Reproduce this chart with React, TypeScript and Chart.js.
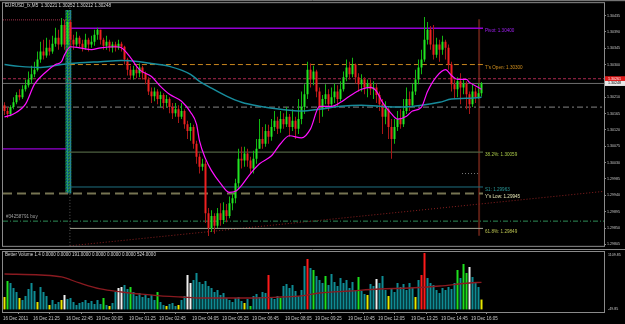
import React, { useEffect, useRef } from "react";
import { Chart, registerables } from "chart.js";
Chart.register(...registerables);

// ---------- DATA (prices in points, 1 point = 0.00001) ----------
const symbolTitle = "EURUSD_fx,M5";
const firstOpen = 130188;
const closePts = [
  130172,130164,130183,130196,130216,130210,130232,130243,130259,130273,
  130286,130314,130336,130325,130346,130336,130357,130374,130355,130409,
  130355,130417,130368,130355,130374,130357,130346,130368,130355,130363,
  130382,130396,130368,130352,130363,130346,130355,130346,130357,130349,
  130314,130286,130270,130286,130276,130292,130276,130259,130226,130213,
  130226,130205,130216,130194,130205,130183,130166,130177,130156,130172,
  130136,130117,130128,130082,130046,130019,130027,129891,129850,129883,
  129856,129891,129872,129899,129883,129918,129932,129973,130041,130036,
  130055,130036,130014,130041,130068,130095,130082,130117,130101,130128,
  130145,130123,130150,130136,130156,130128,130145,130123,130150,130183,
  130218,130286,130259,130281,130226,130177,130205,130218,130191,130210,
  130226,130205,130232,130265,130292,130273,130300,130265,130246,130259,
  130237,130248,130232,130237,130216,130191,130156,130177,130128,130095,
  130128,130150,130136,130172,130205,130188,130226,130259,130292,130314,
  130368,130396,130355,130327,130355,130341,130363,130346,130300,130246,
  130232,130254,130237,130248,130218,130191,130226,130210,130221,130248,
];
const highPts = [
  130196,130183,130188,130210,130224,130232,130243,130259,130281,130297,
  130308,130336,130363,130368,130374,130368,130379,130401,130396,130428,
  130423,130445,130423,130382,130390,130379,130368,130385,130374,130379,
  130396,130401,130396,130374,130379,130368,130363,130363,130368,130363,
  130352,130319,130297,130297,130300,130303,130297,130281,130265,130237,
  130237,130232,130226,130221,130216,130210,130194,130194,130188,130194,
  130177,130145,130139,130134,130090,130055,130041,130036,129905,129899,
  129891,129905,129918,129921,129916,129937,129945,129986,130068,130074,
  130074,130068,130046,130063,130095,130150,130128,130136,130134,130150,
  130172,130156,130172,130166,130183,130164,130177,130156,130205,130226,
  130246,130308,130303,130297,130286,130237,130216,130246,130232,130237,
  130248,130243,130254,130281,130314,130308,130319,130303,130276,130273,
  130265,130259,130259,130254,130248,130226,130205,130199,130183,130150,
  130150,130172,130177,130205,130237,130226,130248,130286,130314,130341,
  130431,130417,130406,130409,130374,130368,130379,130368,130355,130308,
  130259,130265,130276,130259,130254,130226,130246,130237,130248,130252,
];
const lowPts = [
  130161,130153,130158,130177,130191,130202,130205,130226,130237,130248,
  130265,130281,130305,130314,130319,130325,130330,130349,130341,130349,
  130341,130319,130346,130341,130349,130346,130336,130341,130336,130346,
  130352,130368,130355,130341,130341,130336,130333,130336,130341,130336,
  130300,130270,130259,130259,130262,130265,130259,130246,130216,130194,
  130199,130191,130183,130177,130183,130166,130150,130156,130139,130150,
  130123,130095,130090,130068,130027,130000,130008,129864,129828,129839,
  129834,129850,129856,129861,129866,129877,129899,129918,129959,130014,
  130019,130019,130000,130000,130027,130068,130068,130074,130082,130090,
  130117,130109,130112,130123,130128,130101,130117,130095,130109,130136,
  130164,130205,130237,130243,130210,130139,130156,130191,130172,130183,
  130194,130183,130199,130226,130254,130259,130265,130248,130226,130226,
  130218,130210,130216,130205,130194,130172,130109,130136,130095,130041,
  130082,130117,130123,130128,130164,130172,130183,130216,130246,130273,
  130308,130355,130341,130314,130319,130308,130327,130314,130286,130226,
  130205,130210,130191,130218,130177,130164,130183,130194,130205,130212,
];

// moving averages (bar index, value in points)
const maFastIdx = [0,3,7,10,14,17,19,20,22,25,29,32,37,39,42,45,49,52,55,59,62,64,65,67,69,72,75,77,79,82,85,89,92,95,99,102,105,109,112,115,119,122,124,126,129,131,134,136,139,141,144,147,149,151,154,155,158,159];
const maFastPts = [130156,130164,130191,130246,130281,130300,130308,130327,130349,130346,130341,130346,130349,130346,130319,130286,130267,130240,130218,130199,130169,130136,130090,130041,130008,129973,129948,129951,129967,130000,130027,130049,130082,130104,130098,130123,130185,130185,130196,130213,130232,130237,130226,130196,130164,130150,130158,130172,130183,130226,130267,130286,130270,130259,130259,130251,130237,130232];
const maSlowIdx = [0,5,12,19,25,32,39,45,49,55,62,65,69,74,79,85,92,99,105,112,119,125,132,139,145,149,154,159];
const maSlowPts = [130300,130295,130292,130300,130305,130308,130311,130308,130303,130295,130273,130254,130235,130213,130196,130185,130177,130172,130177,130185,130188,130185,130183,130188,130196,130205,130207,130210];

// volume panel
const volumes = [
  240,549,511,414,337,221,182,260,395,511,
  356,143,433,337,260,85,182,105,143,182,
  279,201,221,143,85,124,143,182,124,163,
  105,182,105,221,85,66,124,337,414,433,
  472,395,433,337,260,317,240,298,221,279,
  182,337,143,85,66,105,124,66,85,182,
  260,665,511,569,704,530,491,549,453,414,
  337,375,279,317,221,182,143,221,240,163,
  124,201,66,260,298,240,337,317,665,240,
  201,260,221,453,491,414,472,356,260,375,
  839,975,801,762,646,569,511,646,472,685,
  530,453,607,511,569,414,530,375,627,356,
  298,279,491,453,588,511,646,375,260,414,
  337,511,433,491,375,511,414,240,569,665,
  1090,607,511,472,375,317,414,375,433,395,
  511,762,607,878,704,820,627,530,433,191,
];
const volKinds = (
  "YGTTTYTTTT" + "TYTTTYTTTY" + "WTTTTTTTTT" + "TTTGTYTTWW" +
  "TTGTTTTTTT" + "TGTTYTTTYT" + "TWWTTTTTTT" + "TTTTTTTTTT" +
  "YTGTTTTTRT" + "TTGTTTTTTT" + "TRTGTTTGTT" + "TTTTTTTTGT" +
  "TYTTWTTTYT" + "TTTTTTTYTR" + "RTTTTTTTTT" + "TGTGGWTTTY"
).split("");
const volMaIdx = [0,12,19,25,32,39,45,52,59,65,82,92,99,105,115,125,135,145,155,159];
const volMaVals = [685,665,627,511,395,337,298,260,240,221,221,240,260,317,356,395,414,453,511,524];
const volMin = -49.85;
const volMax = 1109.85;
const volTitle = "Better Volume 1.4 0.0000 0.0000 191.0000 0.0000 0.0000 0.0000 524.0000";

// axes
const priceMin = 1.29801;
const priceMax = 1.30469;
const priceTicks = [1.30435,1.3039,1.30345,1.303,1.30255,1.3021,1.30165,1.3012,1.30075,1.3003,1.29985,1.2994,1.29895,1.2985,1.29805];
const timeTickIdx = [0,10,21,31,42,52,63,73,83,94,104,115,125,136,146,156];
const timeTickLabels = ["16 Dec 2011","16 Dec 21:25","16 Dec 22:45","19 Dec 00:05","19 Dec 01:25","19 Dec 02:45","19 Dec 04:05","19 Dec 05:25","19 Dec 06:45","19 Dec 08:05","19 Dec 09:25","19 Dec 10:45","19 Dec 12:05","19 Dec 13:25","19 Dec 14:45","19 Dec 16:05"];

// levels (prices) and time spans (bar indices)
const pivot = 1.304;
const todayOpen = 1.303;
const fib382 = 1.30059;
const s1 = 1.29963;
const yLow = 1.29945;
const fib618 = 1.29849;
const buyPrice = 1.29869;
const buyTicket = "#34258791 buy";
const askPrice = 1.30261;
const bidPrice = 1.30248;
const prevHigh = 1.30423;
const prevLevel = 1.30068;
const dashDotLevel = 1.30183;
const roundLevel = 1.3;
const trendStart = 1.29801;
const trendEnd = 1.29951;
const bandTop = 1.3045;
const xMin = -0.5;
const xMax = 199.83;
const prevEndIdx = 20.5;
const sessionIdx = 21.8;
const bandIdx = 21.3;
const levelEndIdx = 159.5;
const cursorIdx = 158.2;
const roundStartIdx = 152.5;
const roundEndIdx = 157.8;

// ---------- STYLE ----------
const FONT = "'Liberation Sans', Arial, sans-serif";
const GRAY = "#8a8a8a";
const AXIS_TXT = "#c8c8c8";
const P = (v: number) => v / 100000;

function txt(ctx: CanvasRenderingContext2D, s: string, x: number, y: number, color: string, size: number, align: CanvasTextAlign = "left", base: CanvasTextBaseline = "middle") {
  ctx.save();
  ctx.font = `${size}px ${FONT}`;
  ctx.fillStyle = color;
  ctx.textAlign = align;
  ctx.textBaseline = base;
  ctx.fillText(s, x, y);
  ctx.restore();
}

const bgPlugin = {
  id: "bg",
  beforeDraw(chart: any) {
    const ctx = chart.ctx;
    ctx.save();
    ctx.fillStyle = "#000";
    ctx.fillRect(0, 0, chart.width, chart.height);
    ctx.restore();
  },
};

const framePlugin = {
  id: "frame",
  afterDraw(chart: any) {
    const { ctx, chartArea: a } = chart;
    ctx.save();
    ctx.strokeStyle = GRAY;
    ctx.lineWidth = 1;
    ctx.strokeRect(a.left - 0.5, a.top - 0.5, a.right - a.left + 1, a.bottom - a.top + 1);
    ctx.restore();
  },
};

function hl(x0: number, x1: number, p: number, color: string, w: number, dash: number[] = []) {
  return { x0, x1, p0: p, p1: p, color, w, dash };
}

function priceConfig(pattern: any): any {
  const opens = closePts.map((_, i) => (i === 0 ? firstOpen : closePts[i - 1]));
  const bull = closePts.map((c, i) => c >= opens[i]);
  const lines = [
    hl(xMin, prevEndIdx, prevHigh, "#a0304a", 1, [1, 1]),
    hl(xMin, prevEndIdx, prevLevel, "#9400d3", 1.2),
    hl(sessionIdx, levelEndIdx, pivot, "#9400d3", 1.3),
    hl(sessionIdx, levelEndIdx, todayOpen, "#c8861e", 1, [5, 3]),
    hl(xMin, xMax, askPrice, "#a8284e", 1, [3, 2]),
    hl(xMin, xMax, bidPrice, "#6e6e6e", 1),
    hl(xMin, xMax, dashDotLevel, "#6a6a6a", 1.2, [6, 3, 2, 3]),
    hl(sessionIdx, levelEndIdx, fib382, "#4e6040", 1.2),
    hl(sessionIdx, levelEndIdx, s1, "#1f6f80", 1),
    hl(xMin, levelEndIdx, yLow, "#767452", 2, [9, 5]),
    hl(xMin, xMax, buyPrice, "#2e8b57", 1, [5, 2, 1, 2]),
    hl(sessionIdx, levelEndIdx, fib618, "#a4a494", 1),
    hl(roundStartIdx, roundEndIdx, roundLevel, "#7a7a7a", 1, [1, 2]),
    { x0: sessionIdx, x1: xMax, p0: trendStart, p1: trendEnd, color: "#8b2020", w: 1, dash: [1, 2] },
    { x0: sessionIdx, x1: sessionIdx, p0: priceMin, p1: priceMax, color: "#5a5a5a", w: 1, dash: [1, 2] },
    { x0: cursorIdx, x1: cursorIdx, p0: fib618 - 0.0002, p1: pivot + 0.00025, color: "#5a1e14", w: 2, dash: [] },
  ];
  const datasets: any[] = [];
  datasets.push({
    type: "bar", data: [{ x: bandIdx, y: [yLow, bandTop] }], backgroundColor: pattern,
    barThickness: 6, grouped: false, inflateAmount: 0, order: 40,
  });
  lines.forEach((l) =>
    datasets.push({
      type: "line", data: [{ x: l.x0, y: l.p0 }, { x: l.x1, y: l.p1 }], borderColor: l.color,
      borderWidth: l.w, borderDash: l.dash, pointRadius: 0, order: 30,
    })
  );
  datasets.push({
    type: "bar", data: closePts.map((_, i) => ({ x: i, y: [P(lowPts[i]), P(highPts[i])] })),
    backgroundColor: bull.map((b) => (b ? "#12b812" : "#a81818")),
    barThickness: 1, grouped: false, inflateAmount: 0, order: 4,
  });
  datasets.push({
    type: "bar", data: closePts.map((c, i) => ({ x: i, y: [P(opens[i]), P(c)] })),
    backgroundColor: bull.map((b) => (b ? "#22e622" : "#ee2020")),
    barThickness: 2, grouped: false, inflateAmount: 0, minBarLength: 1, order: 3,
  });
  datasets.push({
    type: "line", data: maSlowIdx.map((x, k) => ({ x, y: P(maSlowPts[k]) })),
    borderColor: "#178c9c", borderWidth: 1.5, pointRadius: 0, cubicInterpolationMode: "monotone", order: 2,
  });
  datasets.push({
    type: "line", data: maFastIdx.map((x, k) => ({ x, y: P(maFastPts[k]) })),
    borderColor: "#ff10ff", borderWidth: 1.2, pointRadius: 0, cubicInterpolationMode: "monotone", order: 1,
  });

  const labels = [
    { t: `Pivot: ${pivot.toFixed(5)}`, p: pivot, c: "#a020f0" },
    { t: `T's Open: ${todayOpen.toFixed(5)}`, p: todayOpen, c: "#d2901e" },
    { t: `38.2%: ${fib382.toFixed(5)}`, p: fib382, c: "#a8c848" },
    { t: `S1: ${s1.toFixed(5)}`, p: s1, c: "#2a9a9a" },
    { t: `Y's Low: ${yLow.toFixed(5)}`, p: yLow, c: "#e6e6b4" },
    { t: `61.8%: ${fib618.toFixed(5)}`, p: fib618, c: "#b8c050" },
  ];
  const f = (v: number) => P(v).toFixed(5);
  const last = closePts.length - 1;
  const title = `${symbolTitle}  ${f(opens[last])} ${f(highPts[last])} ${f(lowPts[last])} ${f(closePts[last])}`;

  const textPlugin = {
    id: "texts",
    afterDraw(chart: any) {
      const { ctx, chartArea: a } = chart;
      const xs = chart.scales.x, ys = chart.scales.y;
      txt(ctx, title, a.left + 2, a.top + 3, "#d8d8d8", 4.6);
      labels.forEach((l) => txt(ctx, l.t, xs.getPixelForValue(levelEndIdx) + 2, ys.getPixelForValue(l.p) + 3, l.c, 4.6));
      txt(ctx, buyTicket, a.left + 3, ys.getPixelForValue(buyPrice) - 2, "#a0a0a0", 4.6, "left", "bottom");
      const box = (p: number, bg: string, fg: string) => {
        const y = ys.getPixelForValue(p);
        ctx.save();
        ctx.fillStyle = bg;
        ctx.fillRect(a.right + 1, y - 2.5, chart.width - a.right - 1, 5);
        ctx.restore();
        txt(ctx, p.toFixed(5), a.right + 4, y, fg, 3.6);
      };
      box(askPrice, "#e01818", "#ffffff");
      box(bidPrice, "#e8e8e8", "#000000");
      ctx.save();
      ctx.strokeStyle = GRAY;
      ctx.beginPath();
      ctx.moveTo(0, a.top - 2.5);
      ctx.lineTo(chart.width, a.top - 2.5);
      ctx.stroke();
      ctx.restore();
    },
  };

  return {
    type: "bar",
    data: { datasets },
    options: {
      responsive: false,
      animation: false,
      events: [],
      layout: { padding: { left: 3, top: 3, right: 0, bottom: 1 } },
      plugins: { legend: { display: false }, tooltip: { enabled: false } },
      scales: {
        x: { type: "linear", min: xMin, max: xMax, offset: false, display: false },
        y: {
          type: "linear", position: "right", min: priceMin, max: priceMax,
          afterFit: (s: any) => { s.width = 21; },
          afterBuildTicks: (s: any) => { s.ticks = priceTicks.map((v) => ({ value: v })); },
          ticks: { autoSkip: false, callback: (v: any) => Number(v).toFixed(5), color: AXIS_TXT, font: { size: 3.6, family: FONT }, padding: 1 },
          grid: { drawOnChartArea: false, drawTicks: true, tickLength: 2, color: GRAY },
          border: { display: false },
        },
      },
    },
    plugins: [bgPlugin, framePlugin, textPlugin],
  };
}

function volConfig(): any {
  const colorOf: Record<string, string> = { T: "#0f8c94", Y: "#e8e800", G: "#1ee01e", W: "#f0f0f0", R: "#ff1a1a" };
  const datasets: any[] = [
    {
      type: "bar", data: volumes.map((v, i) => ({ x: i, y: v })),
      backgroundColor: volKinds.map((k) => colorOf[k]),
      barThickness: 2, grouped: false, inflateAmount: 0, order: 2,
    },
    {
      type: "line", data: volMaIdx.map((x, k) => ({ x, y: volMaVals[k] })),
      borderColor: "#8a1a20", borderWidth: 1.3, pointRadius: 0, cubicInterpolationMode: "monotone", order: 1,
    },
  ];
  const textPlugin = {
    id: "vtexts",
    afterDraw(chart: any) {
      const { ctx, chartArea: a } = chart;
      txt(ctx, volTitle, a.left + 2, a.top + 3, "#d8d8d8", 4.5);
      txt(ctx, volMax.toFixed(2), a.right + 4, a.top + 1, AXIS_TXT, 3.6, "left", "top");
      txt(ctx, volMin.toFixed(2), a.right + 4, a.bottom - 1, AXIS_TXT, 3.6, "left", "bottom");
      ctx.save();
      ctx.strokeStyle = GRAY;
      ctx.beginPath();
      ctx.moveTo(0, a.top - 2.5);
      ctx.lineTo(chart.width, a.top - 2.5);
      ctx.stroke();
      ctx.restore();
    },
  };
  return {
    type: "bar",
    data: { datasets },
    options: {
      responsive: false,
      animation: false,
      events: [],
      layout: { padding: { left: 3, top: 3, right: 0, bottom: 0 } },
      plugins: { legend: { display: false }, tooltip: { enabled: false } },
      scales: {
        x: {
          type: "linear", min: xMin, max: xMax, offset: false, position: "bottom",
          afterFit: (s: any) => { s.height = 12; },
          afterBuildTicks: (s: any) => { s.ticks = timeTickIdx.map((i) => ({ value: i - 0.5 })); },
          ticks: {
            autoSkip: false, maxRotation: 0, align: "start",
            callback: (_v: any, i: number) => timeTickLabels[i],
            color: AXIS_TXT, font: { size: 4.5, family: FONT }, padding: 2,
          },
          grid: { drawOnChartArea: false, drawTicks: true, tickLength: 2, color: GRAY },
          border: { display: false },
        },
        y: {
          type: "linear", position: "right", min: volMin, max: volMax,
          afterFit: (s: any) => { s.width = 21; },
          ticks: { display: false },
          grid: { display: false },
          border: { display: false },
        },
      },
    },
    plugins: [bgPlugin, framePlugin, textPlugin],
  };
}

function makePattern(): any {
  const c = document.createElement("canvas");
  c.width = 3;
  c.height = 3;
  const g = c.getContext("2d")!;
  g.fillStyle = "#0f5a66";
  g.fillRect(0, 0, 3, 3);
  g.fillStyle = "#1f8a96";
  g.fillRect(1, 0, 1, 3);
  g.fillStyle = "#24a82c";
  g.fillRect(0, 1, 1, 1);
  g.fillRect(2, 2, 1, 1);
  return g.createPattern(c, "repeat") || "#146a76";
}

export default function App() {
  const priceRef = useRef<HTMLCanvasElement>(null);
  const volRef = useRef<HTMLCanvasElement>(null);
  useEffect(() => {
    const c1 = new Chart(priceRef.current!, priceConfig(makePattern()));
    const c2 = new Chart(volRef.current!, volConfig());
    return () => {
      c1.destroy();
      c2.destroy();
    };
  }, []);
  return (
    <div style={{ position: "fixed", left: 0, top: 0, width: 625, height: 324, background: "#000", overflow: "hidden" }}>
      <canvas ref={priceRef} width={625} height={249} style={{ position: "absolute", left: 0, top: 0, width: 625, height: 249 }} />
      <canvas ref={volRef} width={625} height={75} style={{ position: "absolute", left: 0, top: 249, width: 625, height: 75 }} />
    </div>
  );
}
